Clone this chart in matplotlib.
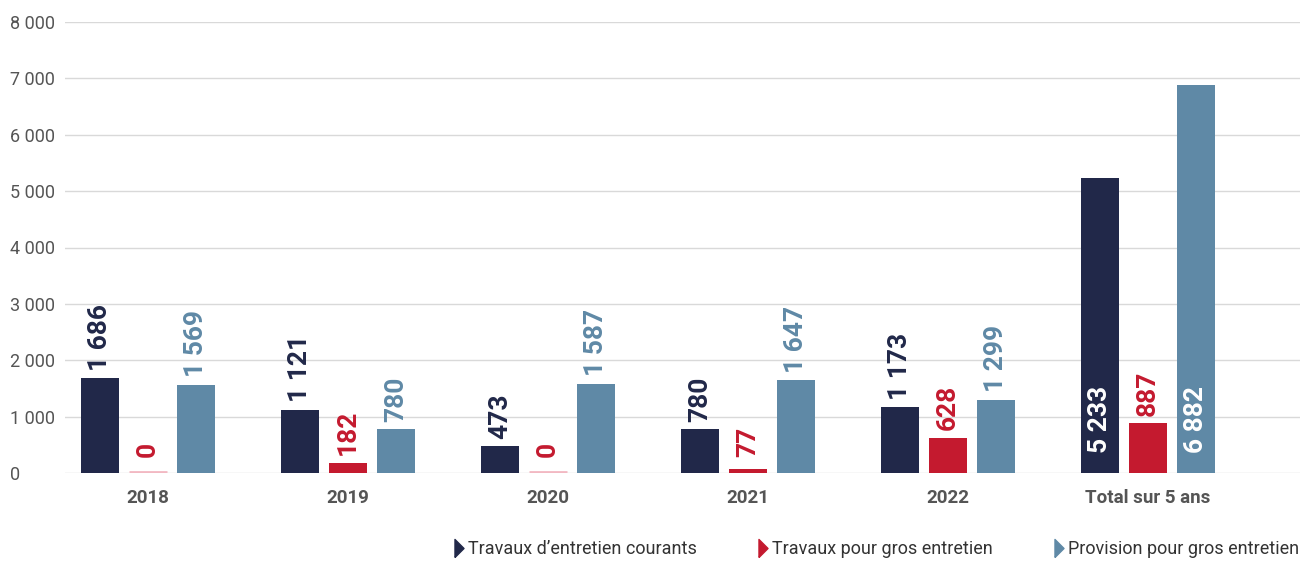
import matplotlib
matplotlib.use("Agg")
import matplotlib.pyplot as plt
import numpy as np
from matplotlib.lines import Line2D

categories = ["2018", "2019", "2020", "2021", "2022", "Total sur 5 ans"]
courants = [1686, 1121, 473, 780, 1173, 5233]
gros = [0, 182, 0, 77, 628, 887]
provision = [1569, 780, 1587, 1647, 1299, 6882]
series_names = ["Travaux d\u2019entretien courants", "Travaux pour gros entretien",
                "Provision pour gros entretien"]
yticks = [0, 1000, 2000, 3000, 4000, 5000, 6000, 7000, 8000]

COLORS = ["#212849", "#c41a2f", "#5f89a6"]
GRAY = "#555555"

plt.rcParams["font.family"] = ["Roboto", "DejaVu Sans"]

# thin right-pointing triangle for the legend
TRI = [(-0.5, -1.0), (0.5, 0.0), (-0.5, 1.0), (-0.5, -1.0)]


def fmt(v):
    return f"{v:,}".replace(",", " ")


def main():
    fig = plt.figure(figsize=(13.08, 5.61), dpi=100)
    ax = fig.add_axes([65 / 1308, 1 - 473 / 561, (1300 - 65) / 1308, (473 - 22) / 561])

    x = np.arange(len(categories))
    width = 0.19
    offset = 0.24
    all_series = [courants, gros, provision]

    for i, (vals, color) in enumerate(zip(all_series, COLORS)):
        pos = x + (i - 1) * offset
        ax.bar(pos, vals, width, color=color, zorder=3)
        for p, v, cat in zip(pos, vals, categories):
            if v == 0:
                ax.plot([p - width / 2, p + width / 2], [15, 15], color="#f2b8c2",
                        lw=2, zorder=3, solid_capstyle="butt")
            inside = cat.startswith("Total") and i != 1
            if inside:
                ax.text(p, 350, fmt(v), rotation=90, ha="center", va="bottom",
                        color="white", fontsize=19, fontweight="bold", zorder=4)
            else:
                ax.text(p, max(v, 150) + 130, fmt(v), rotation=90, ha="center", va="bottom",
                        color=color, fontsize=19, fontweight="bold", zorder=4)

    ax.set_xlim(-0.415, 5.76)
    ax.set_ylim(0, 8000)
    ax.set_yticks(yticks)
    ax.set_yticklabels([fmt(t) for t in yticks])
    ax.set_xticks(x)
    ax.set_xticklabels(categories)
    for lab in ax.get_yticklabels():
        lab.set_ha("left")
    ax.tick_params(axis="y", length=0, pad=39.6, labelsize=13, labelcolor=GRAY)
    ax.tick_params(axis="x", length=0, pad=11.5, labelsize=13.5, labelcolor=GRAY)
    for lab in ax.get_xticklabels():
        lab.set_fontweight("bold")
    ax.grid(axis="y", color="#d9d9d9", lw=1, zorder=0)
    for s in ax.spines.values():
        s.set_visible(False)

    handles = [Line2D([], [], marker=TRI, color=c, ls="none", markersize=13) for c in COLORS]
    fig.legend(handles, series_names, loc="center right", bbox_to_anchor=(1.0, 1 - 549 / 561),
               ncol=3, frameon=False, fontsize=13, labelcolor="#333333",
               handletextpad=0.0, columnspacing=3.15, handlelength=1.0, borderaxespad=0.1)

    fig.savefig("out.png", dpi=100)
    plt.close(fig)


if __name__ == "__main__":
    main()
